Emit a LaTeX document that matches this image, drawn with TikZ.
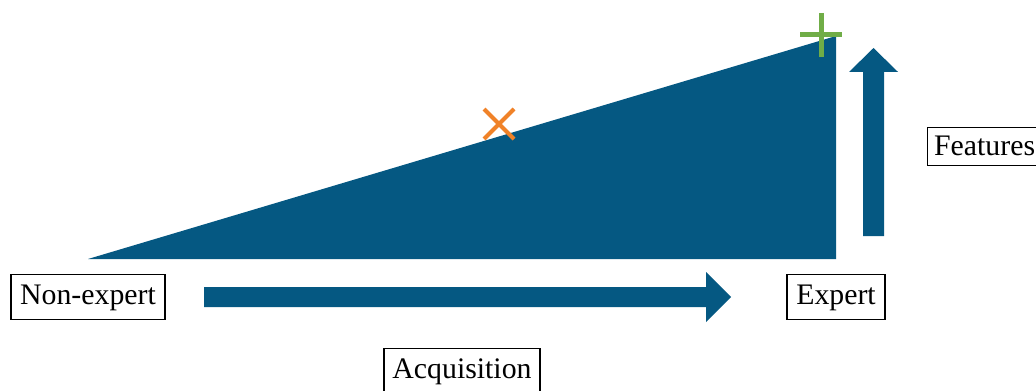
\documentclass[tikz,border=0pt]{standalone}
\usepackage{fontspec}
\setmainfont{Liberation Serif}
\usetikzlibrary{calc}
\definecolor{dblue}{RGB}{5,88,130}
\definecolor{morange}{RGB}{240,130,40}
\definecolor{mgreen}{RGB}{112,173,71}
\begin{document}
\begin{tikzpicture}[x=0.5pt,y=-0.5pt,
  lbl/.style={draw=black,line width=0.6pt,fill=white,inner sep=0pt,text height=15pt,text depth=7.5pt,font=\fontsize{14.9}{17}\selectfont},
  shape fill/.style={fill=dblue,draw=none}]
\useasboundingbox (0,0) rectangle (1036,390);
% triangle
\coordinate (tl) at (88,259);
\coordinate (br) at (836,259);
\coordinate (tr) at (836,36);
\fill[shape fill] (tl) -- (br) -- (tr) -- cycle;
% right arrow
\fill[shape fill] (204,287) -- (706,287) -- (706,272) -- (731,297) -- (706,322) -- (706,307) -- (204,307) -- cycle;
% up arrow
\fill[shape fill] (863,236) -- (863,72) -- (849,72) -- (873.5,48) -- (898,72) -- (884,72) -- (884,236) -- cycle;
% markers
\coordinate (xm) at (499,124);
\draw[morange,line width=2pt] ($(xm)+(-15,-15)$) -- ($(xm)+(15,15)$);
\draw[morange,line width=2pt] ($(xm)+(-15,15)$) -- ($(xm)+(15,-15)$);
\coordinate (pm) at (821,35);
\draw[mgreen,line width=2.5pt] ($(pm)+(-21,0)$) -- ($(pm)+(21,0)$);
\draw[mgreen,line width=2.5pt] ($(pm)+(0,-22)$) -- ($(pm)+(0,22)$);
% labels
\node[lbl,minimum width=77pt,anchor=north] (nonexp) at (88,274) {Non-expert};
\node[lbl,minimum width=49pt,anchor=north] (exp) at (836,274) {Expert};
\node[lbl,minimum width=78pt,anchor=north] (acq) at (462,348) {Acquisition};
\node[lbl,minimum width=57pt,text height=14pt,text depth=5pt,anchor=north west] (feat) at (927,127) {Features};
\end{tikzpicture}
\end{document}
